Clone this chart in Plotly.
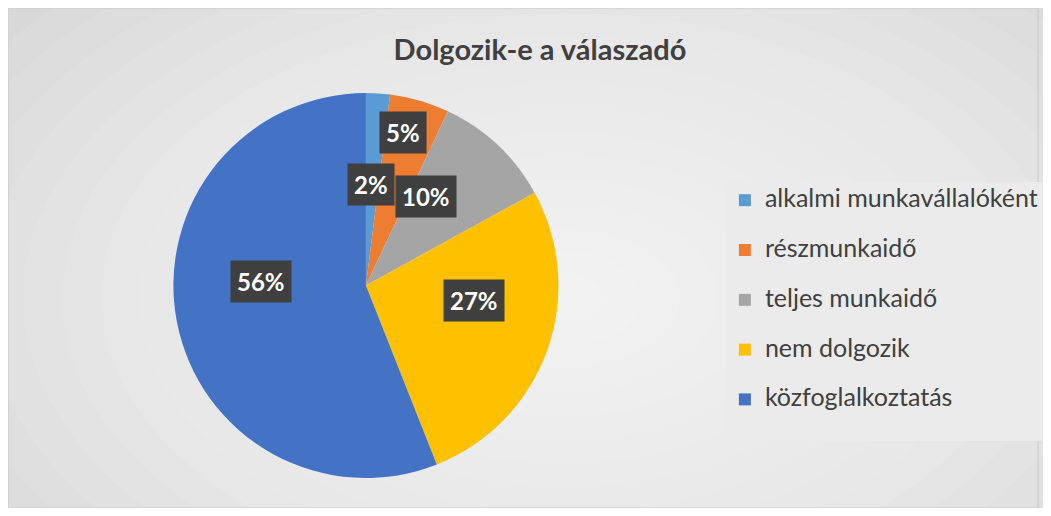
import plotly.graph_objects as go
import math

# ---- data ----
categories = ["alkalmi munkavállalóként", "részmunkaidő", "teljes munkaidő",
              "nem dolgozik", "közfoglalkoztatás"]
values = [2, 5, 10, 27, 56]
colors = ["#5B9BD5", "#ED7D31", "#A5A5A5", "#FFC000", "#4472C4"]
title_text = "Dolgozik-e a válaszadó"

# ---- layout constants ----
W, H = 1035, 500
pie_x = [0.160, 0.535]
pie_y = [0.06, 0.83]
label_r = [0.40, 0.70, 0.46, 0.60, 0.56]   # radial position of data labels (style)
FONT = "Lato, Open Sans, sans-serif"

fig = go.Figure()
fig.add_trace(go.Pie(
    labels=[f"<span style='font-size:25px'>{c}</span><br> " for c in categories],
    values=values,
    marker=dict(colors=colors, line=dict(width=0)),
    sort=False,
    direction="clockwise",
    rotation=0,
    textinfo="none",
    hoverinfo="percent",
    domain=dict(x=pie_x, y=pie_y),
))

# data labels as boxed annotations, positions derived from the values
total = sum(values)
cx_px = (pie_x[0] + pie_x[1]) / 2 * W
cy_px = (1 - (pie_y[0] + pie_y[1]) / 2) * H
rad_px = min((pie_x[1] - pie_x[0]) * W, (pie_y[1] - pie_y[0]) * H) / 2
cum = 0
annotations = []
for v, k in zip(values, label_r):
    theta = 2 * math.pi * (cum + v / 2) / total
    cum += v
    px = cx_px + rad_px * k * math.sin(theta)
    py = cy_px - rad_px * k * math.cos(theta)
    annotations.append(dict(
        x=px / W, y=1 - py / H, xref="paper", yref="paper",
        xanchor="center", yanchor="middle", yshift=24,
        text=f"<b>{round(100 * v / total)}%</b>", showarrow=False,
        font=dict(family=FONT, size=24, color="white"),
        bgcolor="#3F3F3F", borderpad=6,
    ))

# background: soft radial gradient
shapes = []
n = 20
for i in range(n):
    f = 1 - i / n
    rx, ry = 0.75 * f, 0.95 * f
    shapes.append(dict(type="circle", xref="paper", yref="paper",
                       x0=0.54 - rx, x1=0.54 + rx, y0=0.42 - ry, y1=0.42 + ry,
                       fillcolor="white", opacity=0.08, line=dict(width=0),
                       layer="below"))
shapes.append(dict(type="rect", xref="paper", yref="paper", x0=0, x1=1, y0=0, y1=1,
                   line=dict(color="#c8c8c8", width=1), fillcolor="rgba(0,0,0,0)",
                   layer="below"))

fig.update_layout(
    width=W, height=H,
    margin=dict(l=0, r=0, t=0, b=0),
    paper_bgcolor="#d2d2d2",
    plot_bgcolor="rgba(0,0,0,0)",
    title=dict(text=f"<b>{title_text}</b>", x=0.514, xanchor="center",
               y=1 - 42 / H, yanchor="middle",
               font=dict(family=FONT, size=29, color="#404040")),
    legend=dict(x=0.696, y=0.652, xanchor="left", yanchor="top",
                bgcolor="#ebebeb", valign="top",
                font=dict(family=FONT, size=18, color="#404040")),
    annotations=annotations,
    shapes=shapes,
)

fig.write_html("out.html")
